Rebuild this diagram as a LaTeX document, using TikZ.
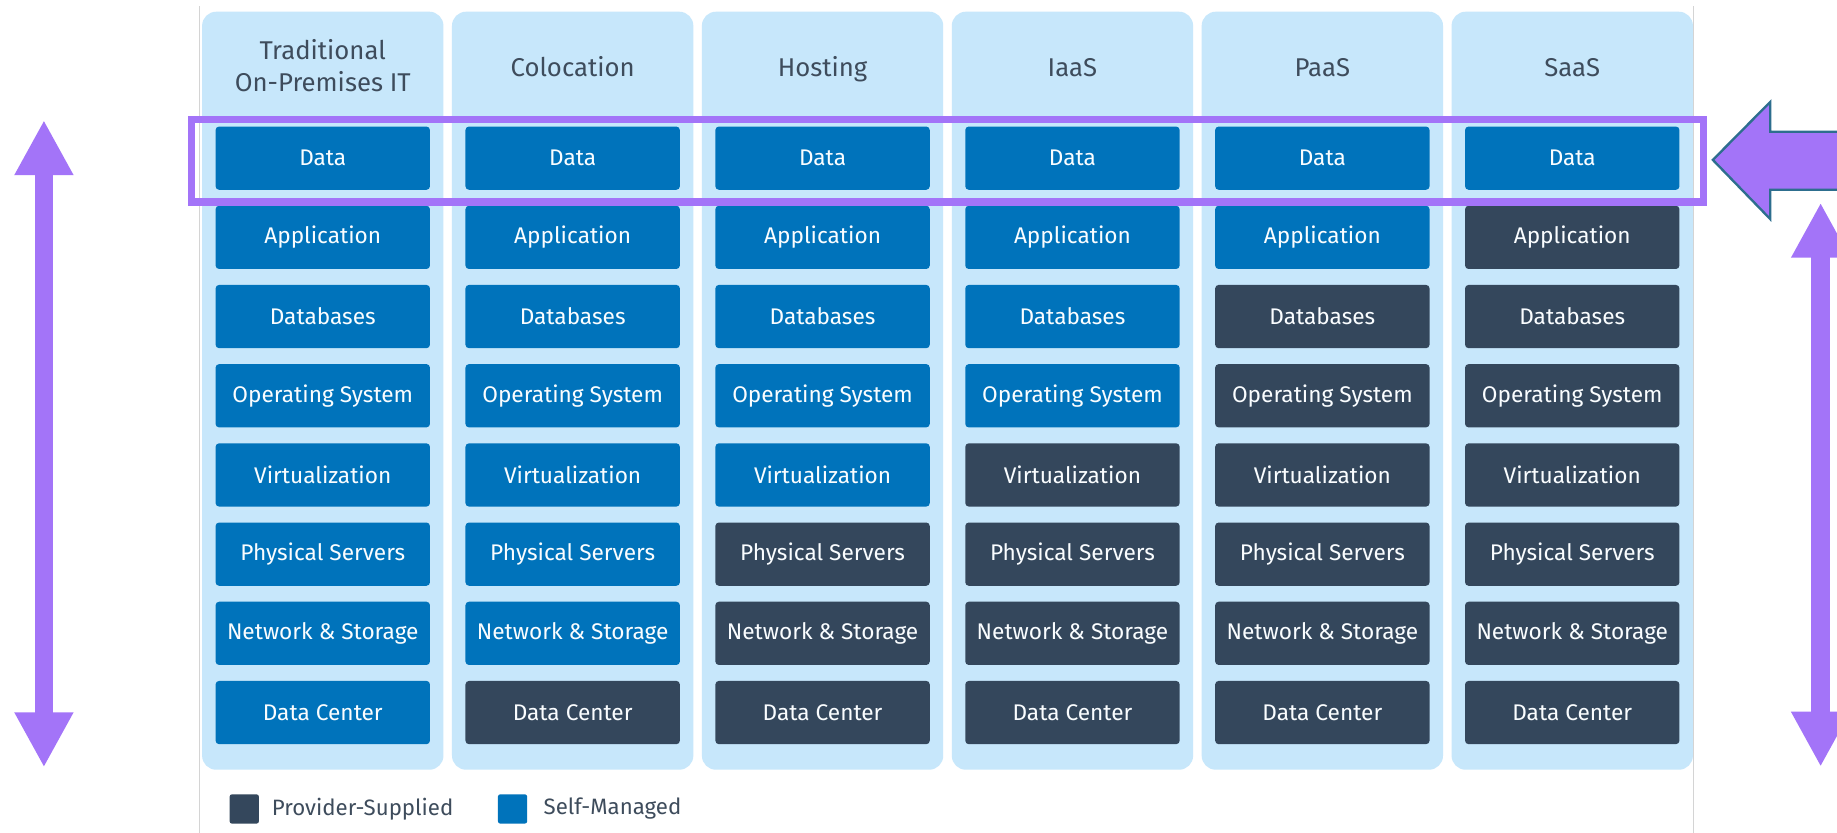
\documentclass[tikz,border=0pt]{standalone}
\usepackage{fontspec}
\setmainfont{Fira Sans}
\usetikzlibrary{arrows.meta,fit,positioning}

\definecolor{colbg}{RGB}{199,231,251}
\definecolor{selfblue}{RGB}{0,115,187}
\definecolor{provdark}{RGB}{52,71,92}
\definecolor{headtext}{RGB}{62,76,92}
\definecolor{hilite}{RGB}{163,116,248}
\definecolor{arrowline}{RGB}{45,110,142}
\definecolor{frameline}{RGB}{212,212,212}

\begin{document}
\begin{tikzpicture}[
    column/.style={fill=colbg, rounded corners=0.24cm, minimum width=4.12cm, minimum height=12.94cm},
    layer/.style={rounded corners=0.06cm, minimum width=3.66cm, minimum height=1.08cm, inner sep=0pt, text=white!92!colbg, font=\fontsize{11}{13}\selectfont},
    self/.style={layer, fill=selfblue},
    provider/.style={layer, fill=provdark},
    head/.style={text=headtext, align=center, font=\fontsize{12.5}{15.3}\selectfont},
    key/.style={minimum size=0.5cm, inner sep=0pt, rounded corners=0.04cm},
    keytext/.style={text=headtext, font=\fontsize{10.8}{13}\selectfont},
    updown/.style={hilite, line width=0.32cm, {Triangle[width=0.94cm,length=0.94cm]}-{Triangle[width=0.94cm,length=0.94cm]}}
]
    \clip (0,0) rectangle (31.36,14.22);
    \fill[white] (0,0) rectangle (31.36,14.22);
    \draw[frameline] (3.41,0) -- (3.41,14.12);
    \draw[frameline] (28.90,0) -- (28.90,14.12);
    % columns and their layers
    \foreach \name/\nself [count=\c] in {{Traditional\\On-Premises IT}/8, Colocation/7, Hosting/5, IaaS/4, PaaS/2, SaaS/1} {
        \node[column] (col\c) at ({5.51+(\c-1)*4.266}, 7.55) {};
        \node[head] (head\c) at ({5.51+(\c-1)*4.266}, 13.02) {\name\strut};
        \foreach \layer [count=\r] in {Data, Application, Databases, Operating System, Virtualization, Physical Servers, Network \& Storage, Data Center} {
            \ifnum\r>\nself \def\kind{provider}\else \def\kind{self}\fi
            \node[\kind] (l\c-\r) at ({5.51+(\c-1)*4.266}, {11.52-(\r-1)*1.352}) {\layer};
        }
    }
    % highlight of the data row
    \node[draw=hilite, line width=0.13cm, fit=(l1-1)(l6-1), inner xsep=0.405cm, inner ysep=0.155cm, yshift=-0.045cm] (datarow) {};
    \coordinate (tip) at (29.24,11.49);
    \draw[arrowline, fill=hilite, line width=0.04cm] (tip) -- ++(0.98,0.99) -- ++(0,-0.51) -- ++(2,0) -- ++(0,-0.99) -- ++(-2,0) -- ++(0,-0.5) -- cycle;
    % side arrows
    \coordinate (lefttop) at (0.75,12.17);
    \coordinate (leftbot) at (0.75,1.12);
    \coordinate (righttop) at (31.08,10.76);
    \coordinate (rightbot) at (31.08,1.13);
    \draw[updown] (leftbot) -- (lefttop);
    \draw[updown] (rightbot) -- (righttop);
    % legend
    \node[key, fill=provdark] (keyprov) at (4.17,0.41) {};
    \node[keytext, right=0.09cm of keyprov] (txtprov) {Provider-Supplied};
    \node[key, fill=selfblue] (keyself) at (8.75,0.41) {};
    \node[keytext, right=0.15cm of keyself] (txtself) {Self-Managed};
\end{tikzpicture}
\end{document}
